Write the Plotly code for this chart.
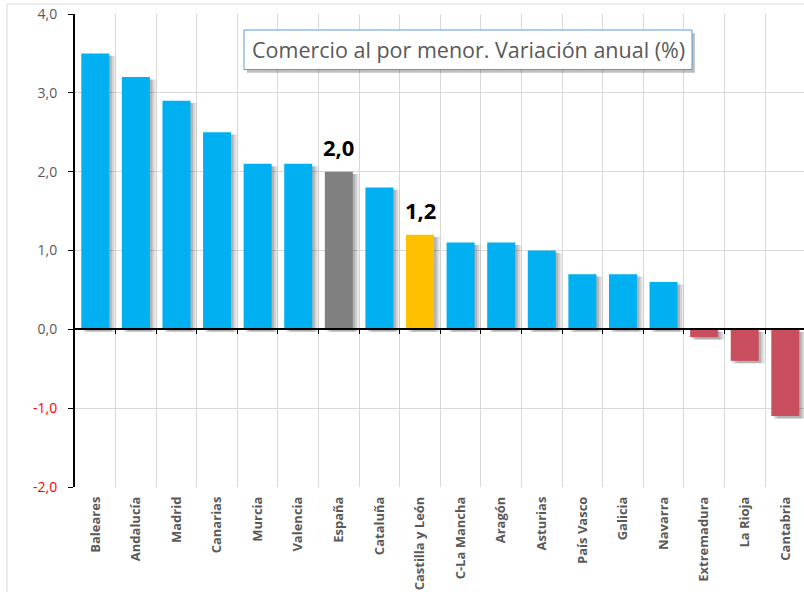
import plotly.graph_objects as go

regions = ["Baleares", "Andalucía", "Madrid", "Canarias", "Murcia", "Valencia", "España",
           "Cataluña", "Castilla y León", "C-La Mancha", "Aragón", "Asturias", "País Vasco",
           "Galicia", "Navarra", "Extremadura", "La Rioja", "Cantabria"]
values = [3.5, 3.2, 2.9, 2.5, 2.1, 2.1, 2.0, 1.8, 1.2, 1.1, 1.1, 1.0, 0.7, 0.7, 0.6, -0.1, -0.4, -1.1]
highlight_labels = {"España": "2,0", "Castilla y León": "1,2"}
y_ticks = [-2, -1, 0, 1, 2, 3, 4]
title_text = "Comercio al por menor. Variación anual (%)"

BLUE = "#00B0F0"
GRAY = "#808080"
YELLOW = "#FFC000"
RED = "#C94F5E"

def color_for(name, v):
    if name == "España":
        return GRAY
    if name == "Castilla y León":
        return YELLOW
    return BLUE if v >= 0 else RED

x = list(range(len(regions)))
colors = [color_for(n, v) for n, v in zip(regions, values)]
n = len(regions)
boundaries = [i + 0.5 for i in range(n - 1)]

W = 0.69
fig = go.Figure()
# invisible trace so the overlay axis (zero line + boundary ticks/grid) is drawn
fig.add_trace(go.Scatter(x=[boundaries[0]], y=[0], xaxis="x2", yaxis="y", mode="markers",
                         marker=dict(opacity=0), hoverinfo="skip", showlegend=False))
# soft shadows
for dx, alpha in [(0.16, 0.07), (0.11, 0.11), (0.06, 0.15)]:
    fig.add_trace(go.Bar(x=x, y=values, base=[-0.03] * len(values), width=W, offset=-W / 2 + dx,
                         marker=dict(color=f"rgba(0,0,0,{alpha})", line=dict(width=0)),
                         hoverinfo="skip", showlegend=False))
fig.add_trace(go.Bar(x=x, y=values, width=W, offset=-W / 2,
                     marker=dict(color=colors, line=dict(width=0)),
                     showlegend=False))

for i, (name, v) in enumerate(zip(regions, values)):
    if name in highlight_labels:
        fig.add_annotation(x=i, y=v, text=highlight_labels[name], showarrow=False,
                           xanchor="center", yanchor="bottom", yshift=8,
                           font=dict(family="Open Sans", size=22, color="black", weight="bold"))

def ylab(v):
    s = f"{v:.1f}".replace(".", ",")
    if v < 0:
        return f'<span style="color:#FF0000">{s}</span>'
    return s

xrange = [-0.5, n - 0.54]
fig.update_layout(
    width=804, height=592,
    margin=dict(l=75, r=0, t=14, b=105, autoexpand=False),
    paper_bgcolor="white", plot_bgcolor="white",
    barmode="overlay",
    font=dict(family="Open Sans", color="#595959"),
    xaxis=dict(range=xrange, tickmode="array", tickvals=x, ticktext=regions,
               tickangle=-90, showgrid=False, showline=False, ticks="", zeroline=False,
               automargin=False,
               tickfont=dict(size=13, color="#595959", weight="bold"), ticklabelstandoff=6),
    xaxis2=dict(range=xrange, overlaying="x", anchor="free", position=1 / 3, side="bottom",
                tickmode="array", tickvals=boundaries, automargin=False,
                showticklabels=False, showgrid=True, gridcolor="#D9D9D9", gridwidth=1,
                showline=True, linecolor="black", linewidth=2,
                ticks="outside", ticklen=4, tickcolor="black", tickwidth=1, zeroline=False),
    yaxis=dict(range=[-2, 4], tickmode="array", tickvals=y_ticks,
               ticktext=[ylab(v) for v in y_ticks], automargin=False,
               showgrid=True, gridcolor="#D9D9D9", gridwidth=1, zeroline=False,
               showline=True, linecolor="black", linewidth=2,
               ticks="outside", ticklen=5, tickcolor="black", tickwidth=1,
               tickfont=dict(size=14, color="#595959"), ticklabelstandoff=8),
)

# outer chart border (left and top)
fig.add_shape(type="line", xref="paper", yref="paper", x0=-0.0933, x1=-0.0933, y0=-0.23, y1=1.021,
              line=dict(color="#D9D9D9", width=1))
fig.add_shape(type="line", xref="paper", yref="paper", x0=-0.0933, x1=1.0, y0=1.021, y1=1.021,
              line=dict(color="#D9D9D9", width=1))

# title box with shadow
bx0, bx1 = (244 - 75) / 729, (692 - 75) / 729
by0, by1 = (487 - 69.5) / 473, (487 - 30) / 473
fig.add_shape(type="rect", xref="paper", yref="paper", x0=bx0 + 0.004, x1=bx1 + 0.004,
              y0=by0 - 0.007, y1=by1 - 0.007, fillcolor="rgba(0,0,0,0.25)", line=dict(width=0))
fig.add_shape(type="rect", xref="paper", yref="paper", x0=bx0, x1=bx1, y0=by0, y1=by1,
              fillcolor="white", line=dict(color="#5B9BD5", width=1))
fig.add_annotation(xref="paper", yref="paper", x=(bx0 + bx1) / 2, y=(by0 + by1) / 2,
                   xanchor="center", yanchor="middle",
                   text=title_text, showarrow=False,
                   font=dict(family="Open Sans", size=21.5, color="#595959"))

fig.write_html("out.html", config={"displayModeBar": False},
               post_script="document.body.style.margin='0';document.body.style.overflow='hidden';")
